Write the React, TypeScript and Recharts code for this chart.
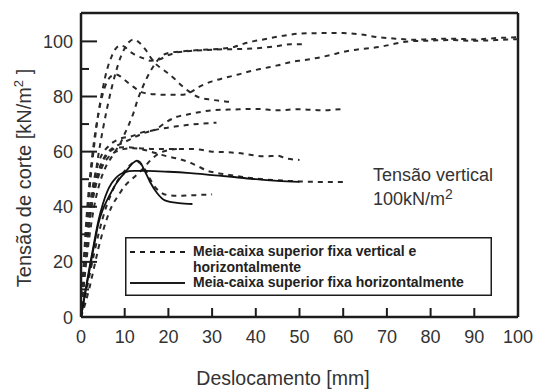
import React from 'react';
import { LineChart, Line, XAxis, YAxis, ReferenceLine, Legend } from 'recharts';

type Pt = [number, number];

// axis ticks
const xTicks = [0, 10, 20, 30, 40, 50, 60, 70, 80, 90, 100];
const yTicks = [0, 10, 20, 30, 40, 50, 60, 70, 80, 90, 100];
const Y_TOP = 110.3;

const legendLabels = [
  'Meia-caixa superior fixa vertical e',
  'horizontalmente',
  'Meia-caixa superior fixa horizontalmente',
];

// tests with the upper half-box fixed vertically and horizontally (dashed)
const dashRow99: Pt[] = [
  [0, 0], [0.5, 14], [1, 27], [2, 47], [3, 62], [4, 74], [5, 83], [6, 90], [7, 94.5], [8, 97.5],
  [9, 98.5], [10, 98], [11, 96.5], [12, 95.5], [14, 94], [16, 93], [18, 93.5], [20, 95], [22, 96],
  [25, 96.5], [30, 97], [35, 97.2], [40, 97.5], [45, 98.3], [48, 99], [51, 99],
];
const dashPeak100: Pt[] = [
  [0, 0], [0.5, 10], [1, 19], [2, 35], [3, 48], [4, 59], [5, 68], [6, 76], [7, 83], [8, 89],
  [9, 94], [10, 97.5], [11, 99.8], [12, 100.7], [13, 100], [14, 98.5], [15, 96.5], [16, 94],
  [17, 92], [19, 89.5], [21, 87], [23, 84], [25, 81.5], [27, 79.7], [30, 78.8], [33, 78.2], [35, 78],
];
const dashPeak88: Pt[] = [
  [0, 0], [0.5, 16], [1, 30], [2, 50], [3, 64], [4, 74], [5, 81], [6, 85.5], [7, 87.5], [8, 88],
  [9, 87.3], [10, 86], [12, 83.5], [14, 81.5], [17, 80.8], [20, 80.6], [23, 80.6], [25, 81.5],
  [27, 83.5], [30, 85.5], [33, 86.8], [36, 88], [39, 89.3], [42, 90.3], [45, 91.3], [48, 92.5],
  [51, 93.2], [54, 94], [57, 95], [60, 96.2], [63, 97], [66, 97.5], [69, 98.2], [72, 99.2],
  [75, 100], [80, 100.3], [85, 100.5], [90, 100.2], [95, 100.5], [100, 100.8],
];
const dashTop103: Pt[] = [
  [0, 0], [0.5, 9], [1, 17], [2, 30], [3, 40], [4, 47], [5, 52], [6, 55.5], [7, 58], [8, 60.5],
  [9, 63], [10, 66.5], [11, 70], [12, 74], [13, 79], [14, 83], [15, 86.5], [16, 89.5], [17, 92],
  [18, 94], [20, 95.8], [24, 96.5], [28, 97], [32, 97.3], [35, 98], [38, 99.5], [42, 100.8],
  [46, 102], [50, 102.8], [55, 103], [60, 103], [64, 102.5], [68, 101.5], [72, 101], [76, 100.6],
  [80, 100.8], [85, 101], [90, 100.7], [95, 101.2], [100, 101.5],
];
const dashRow75: Pt[] = [
  [0, 0], [0.5, 13], [1, 24], [2, 40], [3, 50], [4, 56], [5, 59.5], [6, 61.5], [7, 63], [8.6, 64.5],
  [11.6, 65.6], [14, 67], [17, 68], [19.4, 70.6], [21.7, 72.5], [24.4, 73.5], [27, 74.3], [30, 75],
  [35, 75.3], [40, 75.5], [45, 75], [50, 75.4], [55, 75], [60, 75.5],
];
const dashRow70: Pt[] = [
  [0, 0], [0.5, 12], [1, 22], [2, 37], [3, 47], [4, 53], [5, 57], [6, 59.5], [7, 61], [8, 62],
  [10, 63.5], [12, 65], [14, 66.5], [16, 67.5], [19, 68.5], [22, 69.2], [25, 69.8], [28, 70.2], [31, 70.5],
];
const dashRow60: Pt[] = [
  [0, 0], [0.5, 11], [1, 21], [2, 36], [3, 46], [4, 52.5], [5, 56.5], [6, 59], [7, 60.5], [8, 61.3],
  [10, 61.6], [13, 61.3], [16, 61], [20, 61], [24, 61], [27, 60.8], [30, 60], [33, 59.8], [36, 59.5],
  [39, 58.8], [42, 58.3], [45, 58.5], [47, 57.5], [50, 57],
];
const dashRow49: Pt[] = [
  [0, 0], [0.5, 12], [1, 22], [2, 36], [3, 45], [4, 51], [5, 55], [6, 57.5], [7, 59], [8, 60],
  [10, 61], [12, 61.2], [14, 60.8], [16, 60], [18, 59], [20, 58.2], [22, 57.5], [25, 56], [27, 54.5],
  [29, 53], [31, 52.3], [34, 51.5], [37, 50.8], [40, 50.2], [45, 49.6], [50, 49.2], [55, 49], [60, 49],
];
const dashSlow: Pt[] = [
  [0, 0], [1, 5], [2, 11], [3, 18], [4, 25], [5, 31], [6, 36], [7, 40], [8.5, 44], [10, 47.5],
  [12, 50.5], [14, 53.5], [16, 57], [18, 59.5], [20, 60.5], [22, 61],
];
const dashRow44: Pt[] = [
  [0, 0], [1, 7.5], [2, 15.5], [3, 23], [4, 30], [5, 36], [6, 41], [7, 45], [8, 48.5], [9, 51],
  [10, 53], [11, 54.8], [12, 56], [13, 56.2], [14, 55], [15, 52.5], [16, 49.5], [17, 47], [18, 45.5],
  [20, 44.2], [23, 44], [26, 44.2], [30, 44.5],
];

// tests with the upper half-box fixed horizontally only (solid)
const solidPeak: Pt[] = [
  [0, 0], [1, 9], [2, 17.5], [3, 26], [4, 34], [5, 39], [6, 42.5], [7, 45.5], [8, 48.3], [9, 50.5],
  [10, 52.3], [11, 54.3], [12, 56], [12.8, 56.7], [13.5, 56.2], [14.4, 53.6], [15.8, 49], [17.4, 45],
  [19.2, 42.3], [22.4, 41.3], [25.5, 41],
];
const solidPlateau: Pt[] = [
  [0, 0], [1, 9.5], [2, 18.5], [3, 27], [4, 35], [5, 41], [6, 45.5], [7, 48.5], [8, 50.5], [9, 51.8],
  [10, 52.5], [12, 53], [15, 53], [20, 52.7], [25, 52.2], [30, 51.5], [35, 50.8], [40, 50], [45, 49.4], [50, 49],
];

const dashedCurves = [
  dashRow99, dashPeak100, dashPeak88, dashTop103, dashRow75,
  dashRow70, dashRow60, dashRow49, dashSlow, dashRow44,
];
const solidCurves = [solidPeak, solidPlateau];

const toRows = (pts: Pt[]) => pts.map(([d, v]) => ({ d, v }));

const FONT = '"Liberation Sans", Arial, sans-serif';
const INK = '#1c1c1c';
const TEXT = '#333';

const XTick = (props: any) => {
  const { x, y, payload } = props;
  const v = payload.value;
  return (
    <g>
      {v > 0 && v < 100 && <line x1={x} x2={x} y1={y} y2={y - 9} stroke={INK} strokeWidth={2} />}
      <text x={x} y={y + 26} textAnchor="middle" fontSize={18} fontFamily={FONT} fill={TEXT}>
        {v}
      </text>
    </g>
  );
};

const YTick = (props: any) => {
  const { x, y, payload } = props;
  const v = payload.value;
  const major = v % 20 === 0;
  return (
    <g>
      {v > 0 && <line x1={x} x2={x + (major ? 16 : 8)} y1={y} y2={y} stroke={INK} strokeWidth={2} />}
      {major && (
        <text x={x - 8} y={y + 6.5} textAnchor="end" fontSize={18} fontFamily={FONT} fill={TEXT}>
          {v}
        </text>
      )}
    </g>
  );
};

const XTitle = () => (
  <text x={283} y={385} textAnchor="middle" fontSize={19.5} fontFamily={FONT} fill={TEXT}>
    Deslocamento [mm]
  </text>
);

const YTitle = () => (
  <text
    x={24}
    y={178}
    transform="rotate(-90, 24, 178)"
    textAnchor="middle"
    dy="0.35em"
    fontSize={20}
    fontFamily={FONT}
    fill={TEXT}
  >
    Tensão de corte [kN/m
    <tspan fontSize={13} dy={-8}>2</tspan>
    <tspan dy={8}> ]</tspan>
  </text>
);

const LegendBox = () => (
  <svg width={367} height={59} style={{ display: 'block' }}>
    <rect x={0.75} y={0.75} width={365.5} height={57.5} fill="#fff" stroke={INK} strokeWidth={1.5} />
    <line x1={5} x2={60} y1={15} y2={15} stroke={INK} strokeWidth={2} strokeDasharray="5 5" />
    <line x1={5} x2={60} y1={46} y2={46} stroke={INK} strokeWidth={1.8} />
    <g fontFamily={FONT} fontSize={14} fontWeight="bold" fill="#222">
      <text x={68} y={19}>{legendLabels[0]}</text>
      <text x={68} y={35}>{legendLabels[1]}</text>
      <text x={68} y={50}>{legendLabels[2]}</text>
    </g>
  </svg>
);

export default function App() {
  return (
    <div style={{ position: 'absolute', left: 0, top: 0, width: 537, height: 389, background: '#fff' }}>
      <LineChart width={537} height={389} margin={{ top: 13, right: 19, bottom: 0, left: 0 }}>
        <XAxis
          type="number"
          dataKey="d"
          domain={[0, 100]}
          ticks={xTicks}
          interval={0}
          height={72}
          tickSize={0}
          tickMargin={0}
          tickLine={false}
          tick={(p: any) => <XTick {...p} />}
          axisLine={{ stroke: INK, strokeWidth: 2.5 }}
          allowDataOverflow
          label={<XTitle />}
        />
        <YAxis
          type="number"
          dataKey="v"
          domain={[0, Y_TOP]}
          ticks={yTicks}
          interval={0}
          width={81}
          tickSize={0}
          tickMargin={0}
          tickLine={false}
          tick={(p: any) => <YTick {...p} />}
          axisLine={{ stroke: INK, strokeWidth: 2.5 }}
          allowDataOverflow
          label={<YTitle />}
        />
        <ReferenceLine y={Y_TOP} stroke={INK} strokeWidth={2.5} />
        <ReferenceLine x={100} stroke={INK} strokeWidth={2.5} />
        {dashedCurves.map((pts, i) => (
          <Line
            key={`dash-${i}`}
            data={toRows(pts)}
            dataKey="v"
            type="monotone"
            stroke="#2a2a2a"
            strokeWidth={2}
            strokeDasharray="5 5"
            dot={false}
            activeDot={false}
            isAnimationActive={false}
          />
        ))}
        {solidCurves.map((pts, i) => (
          <Line
            key={`solid-${i}`}
            data={toRows(pts)}
            dataKey="v"
            type="monotone"
            stroke="#111"
            strokeWidth={1.8}
            dot={false}
            activeDot={false}
            isAnimationActive={false}
          />
        ))}
        <Legend
          layout="vertical"
          align="center"
          verticalAlign="middle"
          content={() => <LegendBox />}
          wrapperStyle={{ left: 125, top: 237, width: 367, height: 59 }}
        />
      </LineChart>
      <div
        style={{
          position: 'absolute',
          left: 373,
          top: 163,
          fontFamily: FONT,
          fontSize: 18,
          lineHeight: '24px',
          color: TEXT,
          whiteSpace: 'nowrap',
        }}
      >
        Tensão vertical
        <br />
        100kN/m<sup style={{ fontSize: 14, verticalAlign: 'top', lineHeight: '14px' }}>2</sup>
      </div>
    </div>
  );
}
